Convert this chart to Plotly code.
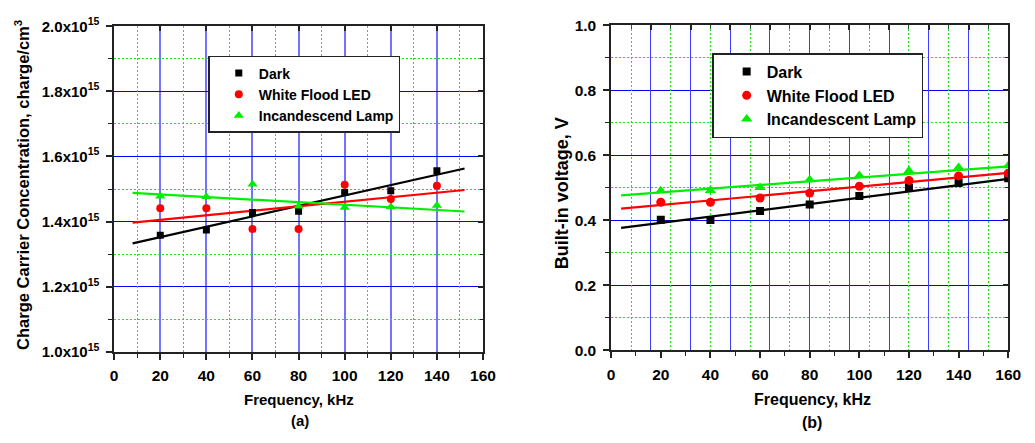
import plotly.graph_objects as go

# ---------------- data: panel (a) ----------------
freq_a = [20, 40, 60, 80, 100, 120, 140]
dark_a = [1.358e15, 1.374e15, 1.428e15, 1.432e15, 1.489e15, 1.495e15, 1.556e15]
led_a = [1.441e15, 1.441e15, 1.377e15, 1.377e15, 1.513e15, 1.469e15, 1.510e15]
lamp_a = [1.478e15, 1.476e15, 1.515e15, 1.447e15, 1.443e15, 1.445e15, 1.449e15]
fit_x_a = [8, 152]
fit_dark_a = [1.333e15, 1.563e15]
fit_led_a = [1.397e15, 1.497e15]
fit_lamp_a = [1.488e15, 1.431e15]
ytick_vals_a = [1.0e15, 1.2e15, 1.4e15, 1.6e15, 1.8e15, 2.0e15]
ytick_text_a = ["1.0x10<sup>15</sup>", "1.2x10<sup>15</sup>", "1.4x10<sup>15</sup>",
                "1.6x10<sup>15</sup>", "1.8x10<sup>15</sup>", "2.0x10<sup>15</sup>"]
names_a = ["Dark", "White Flood LED", "Incandescend Lamp"]

# ---------------- data: panel (b) ----------------
freq_b = [20, 40, 60, 80, 100, 120, 140, 160]
dark_b = [0.401, 0.400, 0.428, 0.448, 0.474, 0.500, 0.514, 0.529]
led_b = [0.455, 0.455, 0.468, 0.483, 0.504, 0.522, 0.536, 0.544]
lamp_b = [0.490, 0.491, 0.500, 0.524, 0.537, 0.552, 0.562, 0.567]
fit_x_b = [4, 160]
fit_dark_b = [0.376, 0.527]
fit_led_b = [0.435, 0.545]
fit_lamp_b = [0.476, 0.565]
names_b = ["Dark", "White Flood LED", "Incandescent Lamp"]

W, H = 1035, 443
SANS = "Liberation Sans, Arial, sans-serif"
BLACK, RED, GREEN = "#000000", "#ff0000", "#00ee00"
AXC = "#222222"
DOTGREEN = "#1ee61e"

fig = go.Figure()

# fit lines
for xs, ys, c in [(fit_x_a, fit_dark_a, BLACK), (fit_x_a, fit_led_a, RED), (fit_x_a, fit_lamp_a, GREEN)]:
    fig.add_trace(go.Scatter(x=xs, y=ys, mode="lines", line=dict(color=c, width=2.2),
                             showlegend=False, hoverinfo="skip", xaxis="x", yaxis="y"))
for xs, ys, c in [(fit_x_b, fit_dark_b, BLACK), (fit_x_b, fit_led_b, RED), (fit_x_b, fit_lamp_b, GREEN)]:
    fig.add_trace(go.Scatter(x=xs, y=ys, mode="lines", line=dict(color=c, width=2.2),
                             showlegend=False, hoverinfo="skip", xaxis="x2", yaxis="y2"))

# markers
syms = [("square", BLACK, 7), ("circle", RED, 8), ("triangle-up", GREEN, 9)]
for ys, nm, (s, c, sz) in zip([dark_a, led_a, lamp_a], names_a, syms):
    fig.add_trace(go.Scatter(x=freq_a, y=ys, mode="markers", name=nm,
                             marker=dict(symbol=s, color=c, size=sz, line=dict(width=0)),
                             xaxis="x", yaxis="y", legend="legend"))
for ys, nm, (s, c, sz) in zip([dark_b, led_b, lamp_b], names_b, syms):
    fig.add_trace(go.Scatter(x=freq_b, y=ys, mode="markers", name=nm,
                             marker=dict(symbol=s, color=c, size=sz + 1, line=dict(width=0)),
                             xaxis="x2", yaxis="y2", legend="legend2"))

# empty helper traces so the overlay (tick / grid) axes form subplots
for xa, ya in [("x3", "y"), ("x5", "y"), ("x", "y3"), ("x", "y5"),
               ("x4", "y2"), ("x6", "y2"), ("x2", "y4"), ("x2", "y6")]:
    fig.add_trace(go.Scatter(x=[], y=[], xaxis=xa, yaxis=ya, showlegend=False, hoverinfo="skip"))

dom_xa = [112 / W, 487 / W]
dom_ya = [(H - 356) / H, (H - 16) / H]
dom_xb = [617.3 / W, 1021 / W]
dom_yb = [(H - 354.3) / H, (H - 14.7) / H]

tickfont = dict(family=SANS, size=15.5, color="black", weight="bold")
no_minor_grid = dict(showgrid=False)
line_kw = dict(showline=True, linecolor=AXC, linewidth=1.6, mirror=True, zeroline=False)
tick_out = dict(ticks="outside", ticklen=6, tickwidth=1.5, tickcolor=AXC)
tick_in = dict(ticks="inside", ticklen=5, tickwidth=1.5, tickcolor=AXC)
hidden = dict(showline=False, zeroline=False, showticklabels=False)
green_grid = dict(showgrid=True, gridcolor=DOTGREEN, gridwidth=1.2, griddash="1.5px,2.5px")

fig.update_layout(
    width=W, height=H, margin=dict(l=0, r=0, t=0, b=0),
    paper_bgcolor="white", plot_bgcolor="white",
    showlegend=True,
    # ----- panel (a) -----
    xaxis=dict(domain=dom_xa, anchor="y", range=[0, 160], tick0=0, dtick=20,
               showgrid=True, gridcolor="#7373ff", gridwidth=1.5, tickfont=tickfont,
               ticklabelstandoff=3, **line_kw, **tick_out,
               minor=dict(dtick=10, ticks="outside", ticklen=4, tickwidth=1.2, tickcolor=AXC, **no_minor_grid)),
    yaxis=dict(domain=dom_ya, anchor="x", range=[1.0e15, 2.0e15], tickmode="array",
               tickvals=ytick_vals_a, ticktext=ytick_text_a,
               showgrid=True, gridcolor="#0000ff", gridwidth=1.3,
               tickfont=dict(family=SANS, size=15, color="black", weight="bold"),
               ticklabelstandoff=4, **line_kw, **tick_out,
               minor=dict(tick0=1.0e15, dtick=1.0e14, ticks="outside", ticklen=4,
                          tickwidth=1.2, tickcolor=AXC, **no_minor_grid)),
    xaxis3=dict(overlaying="x", anchor="y", side="top", range=[0, 160], tick0=0, dtick=20,
                showgrid=False, **hidden, **tick_in),
    xaxis5=dict(overlaying="x", anchor="y", side="top", range=[0, 160], tick0=10, dtick=20,
                ticks="", **hidden, **green_grid),
    yaxis3=dict(overlaying="y", anchor="x", side="right", range=[1.0e15, 2.0e15],
                tick0=1.0e15, dtick=2.0e14, showgrid=False, **hidden, **tick_in,
                minor=dict(dtick=1.0e14, ticks="inside", ticklen=3, tickwidth=1.2, tickcolor=AXC,
                           **no_minor_grid)),
    yaxis5=dict(overlaying="y", anchor="x", side="right", range=[1.0e15, 2.0e15],
                tick0=1.1e15, dtick=2.0e14, ticks="", **hidden, **green_grid),
    # ----- panel (b) -----
    xaxis2=dict(domain=dom_xb, anchor="y2", range=[0, 160], tick0=0, dtick=20,
                showgrid=False, tickfont=tickfont, ticklabelstandoff=3, **line_kw, **tick_out,
                minor=dict(dtick=10, ticks="outside", ticklen=4, tickwidth=1.2, tickcolor=AXC,
                           **no_minor_grid)),
    xaxis4=dict(overlaying="x2", anchor="y2", side="top", range=[0, 160], tick0=0, dtick=16,
                showgrid=True, gridcolor="#3c3cff", gridwidth=1.4, **hidden, **tick_in),
    xaxis6=dict(overlaying="x2", anchor="y2", side="top", range=[0, 160], tick0=8, dtick=16,
                ticks="inside", ticklen=4, tickwidth=1.2, tickcolor="#335533",
                **hidden, **green_grid),
    yaxis2=dict(domain=dom_yb, anchor="x2", range=[0, 1.0], tick0=0, dtick=0.2, tickformat=".1f",
                showgrid=True, gridcolor="#0000ff", gridwidth=1.3, tickfont=tickfont,
                ticklabelstandoff=4, **line_kw, **tick_out,
                minor=dict(dtick=0.1, ticks="outside", ticklen=4, tickwidth=1.2, tickcolor=AXC,
                           **no_minor_grid)),
    yaxis4=dict(overlaying="y2", anchor="x2", side="right", range=[0, 1.0], tick0=0, dtick=0.2,
                showgrid=False, **hidden, **tick_in,
                minor=dict(dtick=0.1, ticks="inside", ticklen=3, tickwidth=1.2, tickcolor=AXC,
                           **no_minor_grid)),
    yaxis6=dict(overlaying="y2", anchor="x2", side="right", range=[0, 1.0], tick0=0.1, dtick=0.2,
                ticks="", **hidden, **green_grid),
    legend=dict(x=207.7 / W, y=1 - 47 / H, xanchor="left", yanchor="top",
                bgcolor="white", bordercolor=AXC, borderwidth=1.5, indentation=9,
                font=dict(family=SANS, size=14, color="black", weight="bold"), tracegroupgap=0),
    legend2=dict(x=720 / W, y=1 - 44 / H, xanchor="left", yanchor="top",
                 bgcolor="white", bordercolor=AXC, borderwidth=1.5, indentation=13,
                 font=dict(family=SANS, size=16, color="black", weight="bold"), tracegroupgap=0),
)

ann = [
    dict(text="Frequency, kHz", x=300 / W, y=1 - 406 / H, font=dict(family=SANS, size=15, color="black", weight="bold")),
    dict(text="(a)", x=300.5 / W, y=1 - 428 / H, font=dict(family=SANS, size=15, color="black", weight="bold")),
    dict(text="Frequency, kHz", x=822.5 / W, y=1 - 406 / H, font=dict(family=SANS, size=16, color="black", weight="bold")),
    dict(text="(b)", x=822 / W, y=1 - 430 / H, font=dict(family=SANS, size=16, color="black", weight="bold")),
    dict(text="Charge Carrier Concentration, charge/cm<sup>3</sup>", x=19 / W, y=1 - 182 / H, textangle=-90,
         font=dict(family=SANS, size=16.5, color="black", weight="bold")),
    dict(text="Built-in voltage, V", x=566.7 / W, y=1 - 190 / H, textangle=-90,
         font=dict(family=SANS, size=18, color="black", weight="bold")),
]
for a in ann:
    fig.add_annotation(xref="paper", yref="paper", xanchor="center", yanchor="middle",
                       showarrow=False, **a)

fig.write_html("out.html")
